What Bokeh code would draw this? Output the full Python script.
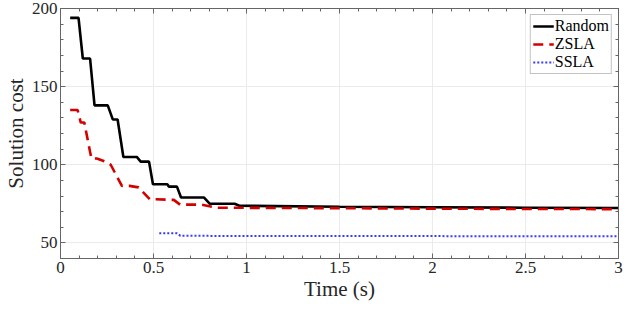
from bokeh.plotting import figure
from bokeh.models import LinearAxis, SingleIntervalTicker, Range1d, CustomLabelingPolicy
from bokeh.embed import file_html
from bokeh.resources import INLINE

# Data (time in s, solution cost)
random_t = [0.052, 0.097, 0.12, 0.159, 0.183, 0.254, 0.281, 0.307, 0.338, 0.41, 0.431, 0.476,
            0.497, 0.574, 0.583, 0.626, 0.648, 0.772, 0.803, 0.936, 0.962, 1.5, 2.0, 2.5, 3.0]
random_v = [194, 194, 168, 168, 138, 138, 129, 129, 105, 105, 102, 102,
            87.5, 87.5, 86, 86, 79, 79, 75, 75, 73.8, 73.1, 72.8, 72.5, 72.3]

zsla_t = [0.052, 0.092, 0.109, 0.128, 0.166, 0.195, 0.24, 0.27, 0.33, 0.37, 0.42, 0.48,
          0.609, 0.643, 0.755, 0.842, 1.5, 2.0, 2.5, 3.0]
zsla_v = [135, 135, 127, 127, 104, 104, 102, 100, 86.5, 86.5, 85.5, 78,
          77.5, 74.5, 74.5, 72.5, 72.2, 71.9, 71.7, 71.6]

ssla_t = [0.531, 0.626, 0.645, 3.0]
ssla_v = [56.1, 56.1, 54.5, 54.2]

x_ticks_interval = 0.5
y_ticks_interval = 50

FONT = "Liberation Serif"
AXIS_COLOR = "#666666"

p = figure(width=624, height=303, output_backend="svg", toolbar_location=None,
           x_range=Range1d(0, 3), y_range=Range1d(40, 200),
           x_axis_label="Time (s)", y_axis_label="Solution cost",
           min_border_left=0, min_border_right=6, min_border_top=8, min_border_bottom=0)

p.background_fill_color = "white"
p.outline_line_color = AXIS_COLOR
p.outline_line_width = 1

xt = SingleIntervalTicker(interval=x_ticks_interval, num_minor_ticks=5)
yt = SingleIntervalTicker(interval=y_ticks_interval, num_minor_ticks=5)

p.xaxis.ticker = xt
p.yaxis.ticker = yt
p.xgrid.ticker = xt
p.ygrid.ticker = yt
for g in (p.xgrid, p.ygrid):
    g.grid_line_color = "#ebebeb"
    g.grid_line_width = 1

def style_axis(ax, labels=True):
    ax.axis_line_color = AXIS_COLOR
    ax.major_tick_line_color = AXIS_COLOR
    ax.minor_tick_line_color = AXIS_COLOR
    ax.major_tick_in = 5
    ax.major_tick_out = 0
    ax.minor_tick_in = 3
    ax.minor_tick_out = 0
    ax.major_label_text_font = FONT
    ax.major_label_text_color = "#262626"
    ax.major_label_text_font_size = "17px" if labels else "0px"
    ax.major_label_standoff = 3 if labels else 0
    ax.axis_label_text_font = FONT
    ax.axis_label_text_font_size = "21px"
    ax.axis_label_text_font_style = "normal"
    ax.axis_label_text_color = "#262626"
    ax.axis_label_standoff = 1
    if not labels:
        ax.major_label_policy = CustomLabelingPolicy(code="return new Set()")

style_axis(p.xaxis[0])
style_axis(p.yaxis[0])

top = LinearAxis(ticker=xt)
right = LinearAxis(ticker=yt)
style_axis(top, labels=False)
style_axis(right, labels=False)
p.add_layout(top, "above")
p.add_layout(right, "right")

p.line(random_t, random_v, line_color="black", line_width=2.6, legend_label="Random")
p.line(zsla_t, zsla_v, line_color="#d40000", line_width=2.6, line_dash="10 6", legend_label="ZSLA")
p.line(ssla_t, ssla_v, line_color="#3a3aff", line_width=2, line_dash="2 2", legend_label="SSLA")

lg = p.legend[0]
lg.location = "top_right"
lg.margin = 6
lg.padding = 2
lg.spacing = 0
lg.glyph_width = 21
lg.glyph_height = 18
lg.label_height = 18
lg.label_standoff = 1
lg.label_text_font = FONT
lg.label_text_font_size = "16px"
lg.label_text_color = "black"
lg.border_line_color = "#888888"
lg.border_line_width = 1
lg.background_fill_color = "white"
lg.background_fill_alpha = 1

open("out.html", "w").write(file_html(p, INLINE))
